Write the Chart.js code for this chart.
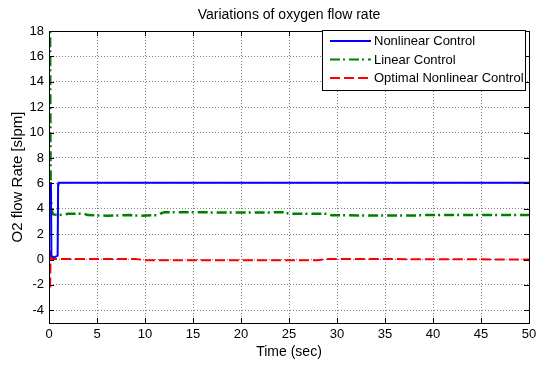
<!DOCTYPE html>
<html>
<head>
<meta charset="utf-8">
<script src="https://cdn.jsdelivr.net/npm/chart.js@4/dist/chart.umd.min.js"></script>
<style>
  html, body { margin: 0; padding: 0; background: #fff; }
  canvas { display: block; }
</style>
</head>
<body>
<canvas id="chart" width="536" height="365"></canvas>
<script>
// ===============================
// Data
// ===============================
const xTicks = [0, 5, 10, 15, 20, 25, 30, 35, 40, 45, 50];
const yTicks = [-4, -2, 0, 2, 4, 6, 8, 10, 12, 14, 16, 18];

const nonlinearTime = [0, 0.2, 0.25, 0.5, 0.9, 0.95, 1.0, 50];
const nonlinearFlow = [6.0, 6.0, 0.3, 0.15, 0.3, 5.9, 6.05, 6.05];

const linearTime = [0.1, 0.13, 0.16, 0.2, 0.3, 0.45, 1, 2, 3.7, 4, 6, 8.5, 9.5, 11.3, 12, 15, 20, 24.6, 25, 29, 29.4, 38, 39, 50];
const linearFlow = [22, 14, 7, 4.8, 3.8, 3.55, 3.5, 3.6, 3.6, 3.5, 3.45, 3.5, 3.45, 3.5, 3.73, 3.72, 3.7, 3.72, 3.6, 3.6, 3.48, 3.47, 3.5, 3.5];

const optimalTime = [0.12, 0.17, 0.25, 1, 9, 10, 28, 29, 50];
const optimalFlow = [-2.2, 0.75, 0.05, 0.05, 0.05, -0.05, -0.05, 0.05, 0.0];

const toPoints = (t, v) => t.map((x, i) => ({ x: x, y: v[i] }));

// ===============================
// Plugins
// ===============================
// box round the plot and MATLAB-style inner tick marks
const frameBox = {
	id: 'frameBox',
	afterDatasetsDraw(chart) {
		const { ctx, chartArea: a, scales } = chart;
		ctx.save();
		ctx.strokeStyle = '#000';
		ctx.lineWidth = 1;
		ctx.beginPath();
		xTicks.forEach(v => {
			const px = Math.round(scales.x.getPixelForValue(v)) + 0.5;
			ctx.moveTo(px, a.bottom); ctx.lineTo(px, a.bottom - 5);
			ctx.moveTo(px, a.top); ctx.lineTo(px, a.top + 5);
		});
		yTicks.forEach(v => {
			const py = Math.round(scales.y.getPixelForValue(v)) + 0.5;
			ctx.moveTo(a.left, py); ctx.lineTo(a.left + 5, py);
			ctx.moveTo(a.right, py); ctx.lineTo(a.right - 5, py);
		});
		ctx.stroke();
		ctx.strokeRect(Math.round(a.left) + 0.5, Math.round(a.top) + 0.5,
			Math.round(a.right - a.left), Math.round(a.bottom - a.top));
		ctx.restore();
	}
};

// legend in a box, top right inside the plot
const boxLegend = {
	id: 'boxLegend',
	afterDraw(chart) {
		const { ctx, chartArea: a } = chart;
		const sets = chart.data.datasets;
		const w = 203, rowH = 18.5;
		const h = 60;
		const x0 = a.right - 207, y0 = a.top - 1;
		ctx.save();
		ctx.fillStyle = '#fff';
		ctx.fillRect(x0, y0, w, h);
		ctx.strokeStyle = '#000';
		ctx.lineWidth = 1;
		ctx.strokeRect(x0 + 0.5, y0 + 0.5, w, h);
		ctx.font = '13px "Liberation Sans", Arial, sans-serif';
		ctx.textBaseline = 'middle';
		sets.forEach((ds, i) => {
			const y = y0 + 11 + i * rowH;
			ctx.strokeStyle = ds.borderColor;
			ctx.lineWidth = 2;
			ctx.setLineDash(ds.borderDash || []);
			ctx.beginPath();
			ctx.moveTo(x0 + 8, y);
			ctx.lineTo(x0 + 49, y);
			ctx.stroke();
			ctx.setLineDash([]);
			ctx.fillStyle = '#000';
			ctx.fillText(ds.label, x0 + 52, y + 0.5);
		});
		ctx.restore();
	}
};

// ===============================
// Chart
// ===============================
const tickFont = { family: '"Liberation Sans Narrow", "Liberation Sans", Arial, sans-serif', size: 13 };
const labelFont = { family: '"Liberation Sans", Arial, sans-serif', size: 14 };

new Chart(document.getElementById('chart'), {
	type: 'line',
	data: {
		datasets: [
			{
				label: 'Nonlinear Control',
				data: toPoints(nonlinearTime, nonlinearFlow),
				borderColor: '#0000ff',
				borderWidth: 2,
				pointRadius: 0,
				tension: 0
			},
			{
				label: 'Linear Control',
				data: toPoints(linearTime, linearFlow),
				borderColor: '#008000',
				borderWidth: 2.5,
				borderDash: [10, 3, 2, 4],
				pointRadius: 0,
				tension: 0
			},
			{
				label: 'Optimal Nonlinear Control',
				data: toPoints(optimalTime, optimalFlow),
				borderColor: '#ff0000',
				borderWidth: 2,
				borderDash: [10, 4],
				pointRadius: 0,
				tension: 0
			}
		]
	},
	options: {
		responsive: false,
		animation: false,
		devicePixelRatio: 1,
		layout: { padding: { left: 0, right: 7, top: 0, bottom: 0 } },
		plugins: {
			legend: { display: false },
			tooltip: { enabled: false },
			title: {
				display: true,
				fullSize: false,
				text: 'Variations of oxygen flow rate',
				color: '#000',
				font: { family: '"Liberation Sans Narrow", "Liberation Sans", Arial, sans-serif', size: 14, weight: 'normal' },
				padding: { top: 7, bottom: 7.2 }
			}
		},
		scales: {
			x: {
				type: 'linear',
				min: 0,
				max: 50,
				afterBuildTicks: s => { s.ticks = xTicks.map(v => ({ value: v })); },
				afterFit: s => { s.height = 42; s.paddingLeft = 0; s.paddingRight = 0; },
				ticks: { color: '#000', font: tickFont, padding: 4, maxRotation: 0 },
				grid: { color: 'rgba(0,0,0,0.5)', drawTicks: false },
				border: { display: true, color: '#000', dash: [1, 2] },
				title: { display: true, text: 'Time (sec)', color: '#000', font: labelFont, padding: { top: 4, bottom: 4 } }
			},
			y: {
				type: 'linear',
				min: -5,
				max: 18,
				afterBuildTicks: s => { s.ticks = yTicks.map(v => ({ value: v })); },
				afterFit: s => { s.width = 49; s.paddingTop = 0; s.paddingBottom = 0; },
				ticks: { color: '#000', font: tickFont, padding: 5 },
				grid: { color: 'rgba(0,0,0,0.5)', drawTicks: false },
				border: { display: true, color: '#000', dash: [1, 2] },
				title: { display: true, text: 'O2 flow Rate [slpm]', color: '#000', font: { family: '"Liberation Sans", Arial, sans-serif', size: 15 }, padding: { top: 9, bottom: 0 } }
			}
		}
	},
	plugins: [frameBox, boxLegend]
});
</script>
</body>
</html>
